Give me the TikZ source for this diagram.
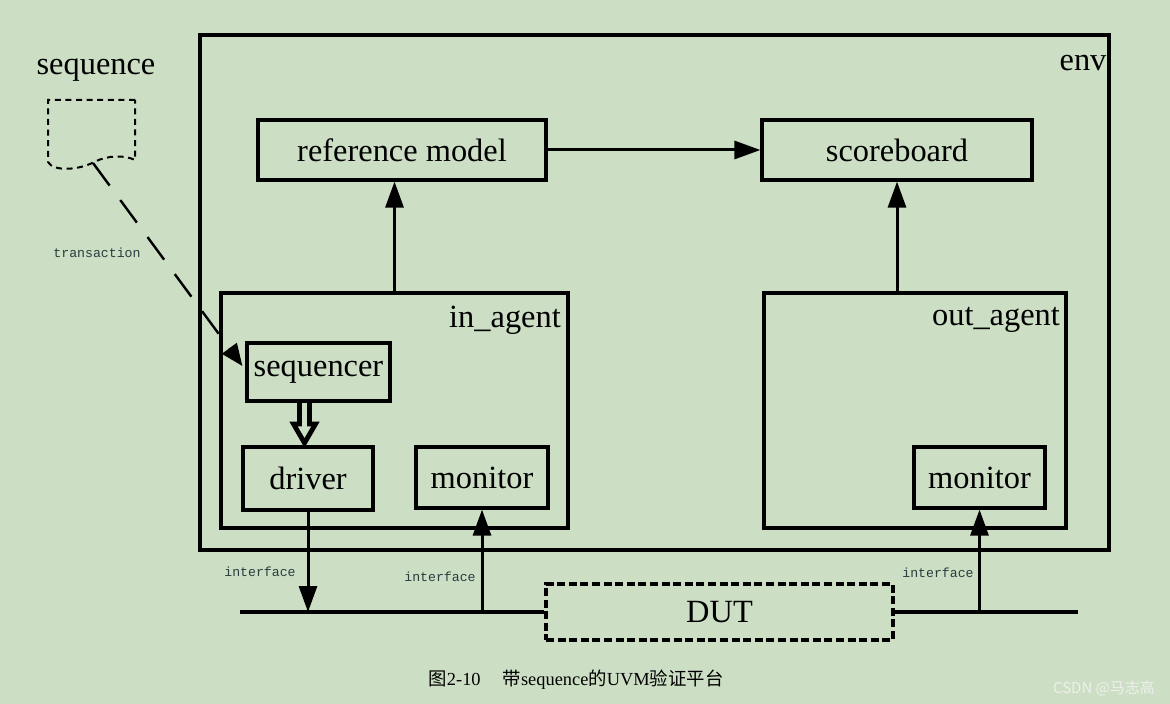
\documentclass[tikz,border=0pt]{standalone}
\usepackage{fontspec}
\setmainfont{Liberation Serif}
\newfontfamily\cjk{Noto Sans CJK SC}
\newfontfamily\monofont{Liberation Mono}
\usetikzlibrary{arrows.meta,calc}

% Define colors
\definecolor{bgcolor}{RGB}{204,222,196} % pale green
\definecolor{ifacecolor}{RGB}{40,62,62}
\definecolor{markcolor}{RGB}{238,240,236}

\tikzset{
  blk/.style={draw, line width=1.6pt, inner sep=0pt, font=\fontsize{16.2}{19}\selectfont},
  tag/.style={inner sep=0pt, font=\fontsize{16.2}{19}\selectfont},
  arr/.style={line width=1.5pt, -{Triangle[length=13pt,width=9pt]}},
  iface/.style={inner sep=0pt, text=ifacecolor, font=\monofont\fontsize{6.6}{8}\selectfont},
}

\begin{document}
\begin{tikzpicture}[x=0.5pt,y=-0.5pt]
    % Draw background
    \fill[bgcolor] (0,0) rectangle (1170,704);
    \useasboundingbox (0,0) rectangle (1170,704);

    % env and its blocks
    \node[blk, minimum width=454.5pt, minimum height=257.5pt] (env) at (654.5,292.5) {};
    \node[tag] (envlbl) at (1083,63) {env};
    \node[blk, minimum width=144pt, minimum height=30pt] (refm) at (402,150) {reference model};
    \node[blk, minimum width=135pt, minimum height=30pt] (scb) at (897,150) {scoreboard};

    % Agents
    \node[blk, minimum width=173.5pt, minimum height=117.5pt] (inag) at (394.5,410.5) {};
    \node[tag] (inlbl) at (505,320) {in\_agent};
    \node[blk, minimum width=151pt, minimum height=117.5pt] (outag) at (915,410.5) {};
    \node[tag] (outlbl) at (996,320) {out\_agent};

    \node[blk, minimum width=71.5pt, minimum height=29pt] (seqr) at (318.5,372) {sequencer};
    \node[blk, minimum width=65pt, minimum height=31.5pt] (drv) at (308,478.5) {driver};
    \node[blk, minimum width=66pt, minimum height=30.5pt] (imon) at (482,477.5) {monitor};
    \node[blk, minimum width=65.5pt, minimum height=30.5pt] (omon) at (979.5,477.5) {monitor};

    % DUT and bus
    \node[blk, dash pattern=on 4pt off 1.8pt, minimum width=173.5pt, minimum height=28pt] (dut) at (719.5,612) {DUT};
    \coordinate (busL) at (240,612);
    \coordinate (busR) at (1078,612);
    \draw[line width=1.6pt] (busL) -- (dut.west);
    \draw[line width=1.6pt] (dut.east) -- (busR);

    % Connections
    \draw[arr] (refm) -- (scb);
    \draw[arr] (inag.north) -- (inag.north |- refm.south);
    \draw[arr] (outag.north -| scb.south) -- (scb.south);
    \draw[arr] (drv.south) -- (drv.south |- busL);
    \draw[arr] (imon.south |- busL) -- (imon.south);
    \draw[arr] (omon.south |- busR) -- (omon.south);

    % Hollow arrow sequencer -> driver
    \coordinate (ha) at (304.5,401);
    \draw[line width=2.4pt, line join=miter] ($(ha)+(-5,0)$) -- ($(ha)+(-5,23)$) -- ($(ha)+(-11,23)$)
        -- ($(ha)+(0,42)$) -- ($(ha)+(11,23)$) -- ($(ha)+(5,23)$) -- ($(ha)+(5,0)$);

    % sequence
    \node[tag] (seqlbl) at (96,70) {sequence};
    \draw[line width=1pt, dash pattern=on 3pt off 2.3pt] (135,100) -- (48,100) -- (48,162)
        .. controls (53,172) and (80,170) .. (94,162)
        .. controls (108,155) and (125,155) .. (135,160) -- cycle;
    \coordinate (seqend) at (93,163);
    \draw[line width=1.2pt, dash pattern=on 14pt off 9pt, -{Triangle[length=11pt,width=9pt]}]
        (seqend) -- ($(seqr.west)+(-3,-6)$);

    % Labels
    \node[iface] (trlbl) at (97,253) {transaction};
    \node[iface] (if1) at (260,572) {interface};
    \node[iface] (if2) at (440,577) {interface};
    \node[iface] (if3) at (938,573) {interface};

    % Caption
    \node[inner sep=0pt, font=\fontsize{9.2}{11}\selectfont] (cap) at (576,680)
        {{\cjk 图}2-10\hspace{11pt}{\cjk 带}sequence{\cjk 的}UVM{\cjk 验证平台}};
    \node[inner sep=0pt, text=markcolor, font=\cjk\fontsize{7.5}{9}\selectfont] (mark) at (1104,688) {CSDN @马志高};
\end{tikzpicture}
\end{document}
